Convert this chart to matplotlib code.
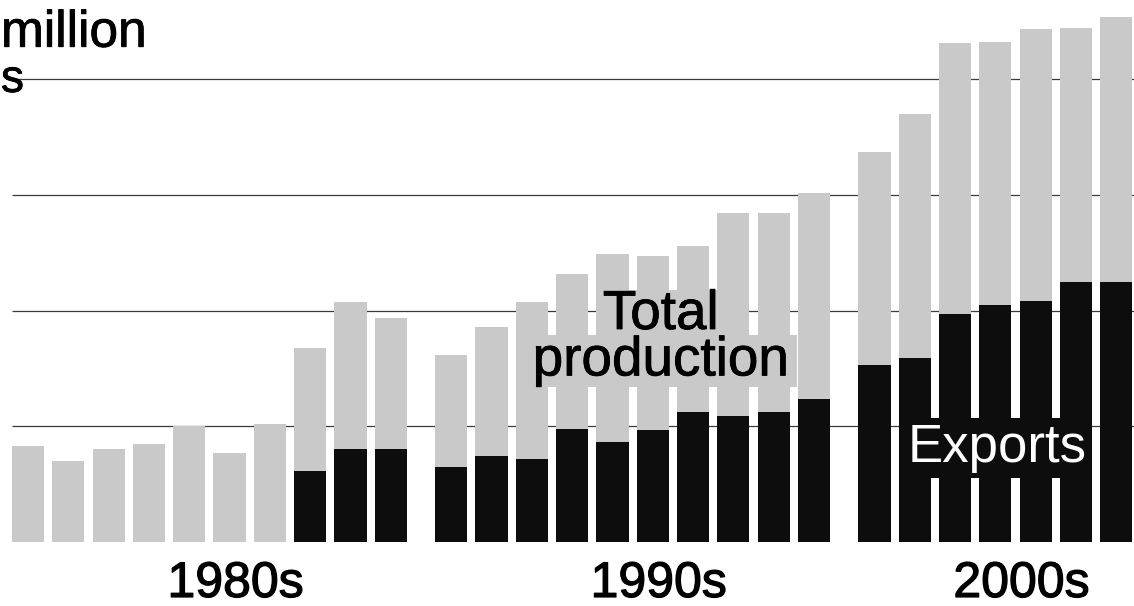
import numpy as np
import matplotlib.pyplot as plt
import matplotlib.patheffects as pe
from matplotlib.patches import Rectangle

# values in units of one gridline step
decades = ["1980s", "1990s", "2000s"]
total_80s = [0.83, 0.70, 0.80, 0.85, 1.00, 0.77, 1.02, 1.68, 2.07, 1.94]
exports_80s = [0, 0, 0, 0, 0, 0, 0, 0.61, 0.80, 0.80]
total_90s = [1.62, 1.86, 2.07, 2.32, 2.49, 2.47, 2.56, 2.84, 2.84, 3.02]
exports_90s = [0.65, 0.74, 0.72, 0.98, 0.86, 0.97, 1.12, 1.09, 1.12, 1.24]
total_00s = [3.37, 3.70, 4.31, 4.32, 4.43, 4.44, 4.54]
exports_00s = [1.53, 1.59, 1.97, 2.05, 2.08, 2.25, 2.25]
grid_values = [1, 2, 3, 4]

totals = [total_80s, total_90s, total_00s]
exports = [exports_80s, exports_90s, exports_00s]

plt.rcParams['font.family'] = ['Liberation Sans', 'DejaVu Sans']

gray = '#c9c9c9'
black = '#0d0d0d'
ink = [pe.withStroke(linewidth=0.9, foreground='black')]
ink_thin = [pe.withStroke(linewidth=0.6, foreground='black')]

fig = plt.figure(figsize=(11.34, 6.06), dpi=100)
ax = fig.add_axes([0, 0, 1, 1])
ax.set_xlim(-0.695, 27.44)
ax.set_ylim(-0.553, 4.684)
ax.axis('off')

# gridlines behind the bars
ax.hlines(grid_values, [-0.4, -0.4, -0.4, -0.27], 27.44,
          color='#3a3a3a', lw=0.9, zorder=1)

start = 0.0
centers = []
for tot, exp in zip(totals, exports):
    x = start + np.arange(len(tot))
    ax.bar(x, tot, width=0.8, color=gray, lw=0, zorder=2)
    ax.bar(x, exp, width=0.8, color=black, lw=0, zorder=3)
    centers.append(x.mean())
    start = x[-1] + 1.5

for name, c in zip(decades, centers):
    ax.text(c + 0.65, -0.475, name, ha='center', va='baseline',
            fontsize=36, color='black', path_effects=ink)

# unit label (only its right part is visible in the scan)
ax.text(-0.67, 4.28, "million", ha='left', va='baseline', fontsize=37,
        path_effects=ink_thin)
ax.text(-0.67, 3.89, "s", ha='left', va='baseline', fontsize=33,
        path_effects=ink_thin)

# grey patches behind the label lines fill the gaps between bars
ax.add_patch(Rectangle((14.12, 1.79), 3.77, 0.39, fc=gray, ec='none', zorder=3.5))
ax.add_patch(Rectangle((12.45, 1.34), 6.63, 0.45, fc=gray, ec='none', zorder=3.5))
ax.text(centers[1] + 0.7, 1.44, "Total\nproduction", ha='center',
        va='baseline', multialignment='center', linespacing=0.86,
        fontsize=39.5, zorder=4, path_effects=ink_thin)

ax.text(centers[2] + 0.05, 0.69, "Exports", ha='center', va='baseline',
        fontsize=38, color='white', zorder=4,
        bbox=dict(boxstyle='square,pad=0.1', fc=black, ec='none'))

fig.savefig("out.png", dpi=100)
